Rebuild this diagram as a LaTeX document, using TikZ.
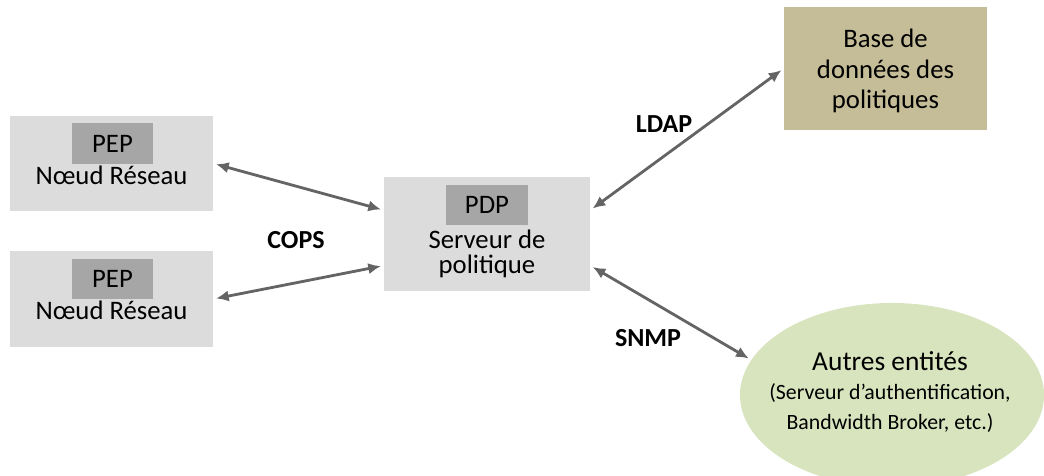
\documentclass[tikz,border=0pt]{standalone}
\usepackage{fontspec}
\setmainfont{Carlito}
\usetikzlibrary{arrows.meta,positioning,shapes.geometric}

\definecolor{boxgray}{HTML}{DCDCDC}
\definecolor{taggray}{HTML}{A6A6A6}
\definecolor{basetan}{HTML}{C4BD97}
\definecolor{autresgreen}{HTML}{D7E4BD}
\definecolor{arrowgray}{HTML}{646464}

\tikzset{
  box/.style={rectangle, fill=boxgray, minimum width=5.075cm, minimum height=2.375cm},
  tag/.style={rectangle, fill=taggray, minimum width=2.025cm, minimum height=1.0cm, inner sep=0pt},
  txt/.style={inner sep=0pt, align=center},
  proto/.style={inner sep=0pt, font=\fontsize{18.5}{22}\selectfont\bfseries},
  link/.style={{Latex[length=9pt,width=8pt]}-{Latex[length=9pt,width=8pt]}, draw=arrowgray, line width=2pt, shorten <=2pt, shorten >=2pt}
}

\begin{document}
\begin{tikzpicture}[x=0.025cm, y=-0.025cm, font=\fontsize{19}{22}\selectfont]
      \useasboundingbox (0,0) rectangle (1044,475);

      % policy enforcement points
      \node[box, name=pep1] at (111.5,163.5) {};
      \node[tag, name=tag1] at (112.5,143.5) {PEP};
      \node[txt, anchor=base, name=txt1] at (111.5,184) {Nœud Réseau};
      \node[box, name=pep2] at (111.5,299) {};
      \node[tag, name=tag2] at (112.5,279) {PEP};
      \node[txt, anchor=base, name=txt2] at (111.5,319) {Nœud Réseau};

      % policy decision point
      \node[box, minimum width=5.15cm, minimum height=2.85cm, name=pdp] at (487,234) {};
      \node[tag, name=tag3] at (487,205) {PDP};
      \node[txt, font=\fontsize{19}{18}\selectfont, name=txt3] at (487,254) {Serveur de\\politique};

      % repository and other entities
      \node[rectangle, fill=basetan, minimum width=5.075cm, minimum height=3.075cm, name=base] at (885.5,68.5) {};
      \node[txt, font=\fontsize{19}{21.5}\selectfont, name=txt4] at (885.5,71) {Base de\\données des\\politiques};
      \node[ellipse, fill=autresgreen, minimum width=7.6cm, minimum height=4.6cm, name=autres] at (892,395) {};
      \node[txt, font=\fontsize{15.5}{21}\selectfont, name=txt5] at (890,392)
         {{\fontsize{19.5}{21}\selectfont Autres entités}\\(Serveur d’authentification,\\Bandwidth Broker, etc.)};

      % protocols
      \node[proto, name=cops] at (296,240) {COPS};
      \node[proto, name=ldap] at (664,124) {LDAP};
      \node[proto, name=snmp] at (648,338) {SNMP};

      \path
         (pep1.east) edge[link] (pdp.167)
         (pep2.east) edge[link] (pdp.197)
         (pdp.13) edge[link] (base.west)
         (pdp.343) edge[link] (autres.166);
   \end{tikzpicture}
\end{document}
